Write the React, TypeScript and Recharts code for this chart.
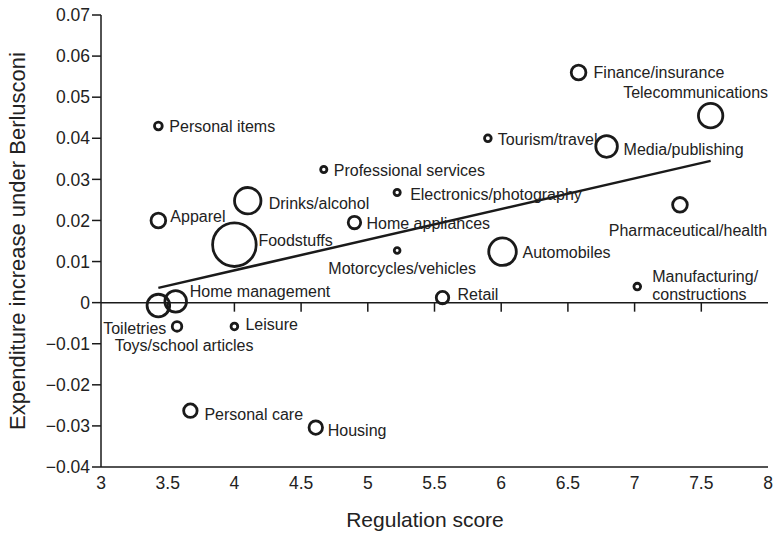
import React from 'react';
import {
  ScatterChart,
  Scatter,
  XAxis,
  YAxis,
  ZAxis,
  ReferenceLine,
  Label,
} from 'recharts';

// sectors, regulation score (x), expenditure increase (y), expenditure share (bubble area)
const categories = [
  'Personal items',
  'Apparel',
  'Foodstuffs',
  'Drinks/alcohol',
  'Professional services',
  'Home appliances',
  'Electronics/photography',
  'Motorcycles/vehicles',
  'Tourism/travel',
  'Finance/insurance',
  'Media/publishing',
  'Telecommunications',
  'Pharmaceutical/health',
  'Automobiles',
  'Manufacturing/constructions',
  'Retail',
  'Home management',
  'Toiletries',
  'Toys/school articles',
  'Leisure',
  'Personal care',
  'Housing',
];
const regulationScore = [
  3.43, 3.43, 4.0, 4.1, 4.67, 4.9, 5.22, 5.22, 5.9, 6.58, 6.79, 7.57, 7.34, 6.01,
  7.02, 5.56, 3.56, 3.43, 3.57, 4.0, 3.67, 4.61,
];
const expenditureIncrease = [
  0.043, 0.02, 0.0141, 0.0248, 0.0324, 0.0195, 0.0268, 0.0127, 0.04, 0.056, 0.038,
  0.0455, 0.0238, 0.0124, 0.0039, 0.0012, 0.0003, -0.0007, -0.0058, -0.0058, -0.0263,
  -0.0304,
];
const expenditureShare = [
  0.7, 2.5, 22, 8.1, 0.45, 1.8, 0.45, 0.38, 0.52, 2.5, 5.4, 6.9, 2.5, 8.8, 0.52, 1.8,
  5.4, 5.9, 1.05, 0.52, 2.1, 2.1,
];

const trendX = [3.43, 7.57];
const trendY = [0.0036, 0.0345];

const xTicks = [3, 3.5, 4, 4.5, 5, 5.5, 6, 6.5, 7, 7.5, 8];
const zeroLineTicks = [3.5, 4, 4.5, 5, 5.5, 6, 6.5, 7, 7.5];
const yTicks = [-0.04, -0.03, -0.02, -0.01, 0, 0.01, 0.02, 0.03, 0.04, 0.05, 0.06, 0.07];

const points = categories.map((name, i) => ({
  name,
  x: regulationScore[i],
  y: expenditureIncrease[i],
  share: expenditureShare[i],
}));
const trend = trendX.map((x, i) => ({ x, y: trendY[i] }));

// label placement relative to bubble centre
const labelPos: Record<string, { dx: number; dy: number; anchor?: string }> = {
  'Personal items': { dx: 11, dy: 0 },
  Apparel: { dx: 12, dy: -4 },
  Foodstuffs: { dx: 24, dy: -5 },
  'Drinks/alcohol': { dx: 21, dy: 2 },
  'Professional services': { dx: 10, dy: 0 },
  'Home appliances': { dx: 12, dy: 0 },
  'Electronics/photography': { dx: 13, dy: 1 },
  'Motorcycles/vehicles': { dx: 5, dy: 18, anchor: 'middle' },
  'Tourism/travel': { dx: 10, dy: 1 },
  'Finance/insurance': { dx: 15, dy: -1 },
  'Media/publishing': { dx: 17, dy: 3 },
  Telecommunications: { dx: -15, dy: -24, anchor: 'middle' },
  'Pharmaceutical/health': { dx: 8, dy: 25, anchor: 'middle' },
  Automobiles: { dx: 20, dy: 0 },
  'Manufacturing/constructions': { dx: 15, dy: -11 },
  Retail: { dx: 15, dy: -4 },
  'Home management': { dx: 14, dy: -10 },
  Toiletries: { dx: 8, dy: 22, anchor: 'end' },
  'Toys/school articles': { dx: 7, dy: 19, anchor: 'middle' },
  Leisure: { dx: 11, dy: -2 },
  'Personal care': { dx: 14, dy: 3 },
  Housing: { dx: 12, dy: 2 },
};

const FONT = '"Liberation Sans", Arial, Helvetica, sans-serif';
const INK = '#1a1a1a';

const fmtY = (v: number) => {
  if (Math.abs(v) < 1e-9) return '0';
  return (v < 0 ? '\u2212' : '') + Math.abs(v).toFixed(2);
};

function Bubble(props: any) {
  const { cx, cy, width, payload } = props;
  const r = width / 2;
  const p = labelPos[payload.name] || { dx: r + 6, dy: 0 };
  const lines = payload.name === 'Manufacturing/constructions'
    ? ['Manufacturing/', 'constructions']
    : [payload.name];
  return (
    <g>
      <circle cx={cx} cy={cy} r={r} fill="none" stroke={INK} strokeWidth={2.8} />
      <text
        x={cx + p.dx}
        y={cy + p.dy}
        textAnchor={p.anchor || 'start'}
        dominantBaseline="central"
        fontSize={16}
        fontFamily={FONT}
        fill="#222"
      >
        {lines.map((l, i) => (
          <tspan key={l} x={cx + p.dx} dy={i === 0 ? 0 : 18}>
            {l}
          </tspan>
        ))}
      </text>
    </g>
  );
}

export default function App() {
  return (
    <div style={{ position: 'absolute', left: 0, top: 0, background: '#fff' }}>
      <ScatterChart
        width={776}
        height={533}
        margin={{ top: 15, right: 8, bottom: 0, left: 31 }}
      >
        <XAxis
          type="number"
          dataKey="x"
          domain={[3, 8]}
          ticks={xTicks}
          allowDataOverflow
          height={66}
          tickLine={false}
          tickSize={8}
          axisLine={{ stroke: INK, strokeWidth: 1.5 }}
          tick={{ fill: '#222', fontSize: 17.5, fontFamily: FONT }}
        >
          <Label
            content={() => (
              <text
                x={425}
                y={527}
                textAnchor="middle"
                fontSize={21}
                fontFamily={FONT}
                fill="#222"
              >
                Regulation score
              </text>
            )}
          />
        </XAxis>
        <YAxis
          type="number"
          dataKey="y"
          domain={[-0.04, 0.07]}
          ticks={yTicks}
          allowDataOverflow
          width={70}
          tickSize={9}
          tickFormatter={fmtY}
          axisLine={{ stroke: INK, strokeWidth: 1.5 }}
          tickLine={{ stroke: INK, strokeWidth: 1.5 }}
          tick={{ fill: '#222', fontSize: 17.5, fontFamily: FONT }}
        >
          <Label
            content={(lp: any) => {
              const vb = lp.viewBox || {};
              const cy = vb.y + vb.height / 2;
              return (
                <text
                  transform={`translate(17, ${cy}) rotate(-90)`}
                  textAnchor="middle"
                  dominantBaseline="central"
                  fontSize={22}
                  fontFamily={FONT}
                  fill="#222"
                >
                  Expenditure increase under Berlusconi
                </text>
              );
            }}
          />
        </YAxis>
        <ZAxis type="number" dataKey="share" domain={[0, 22]} range={[0, 1492]} />
        <ReferenceLine y={0} stroke={INK} strokeWidth={1.5} />
        {zeroLineTicks.map((t) => (
          <ReferenceLine
            key={t}
            segment={[
              { x: t, y: 0 },
              { x: t, y: -0.0022 },
            ]}
            stroke={INK}
            strokeWidth={1.5}
          />
        ))}
        <Scatter
          data={trend}
          line={{ stroke: INK, strokeWidth: 2.5 }}
          stroke={INK}
          shape={() => <g />}
          isAnimationActive={false}
        />
        <Scatter data={points} shape={Bubble} isAnimationActive={false} />
      </ScatterChart>
    </div>
  );
}
